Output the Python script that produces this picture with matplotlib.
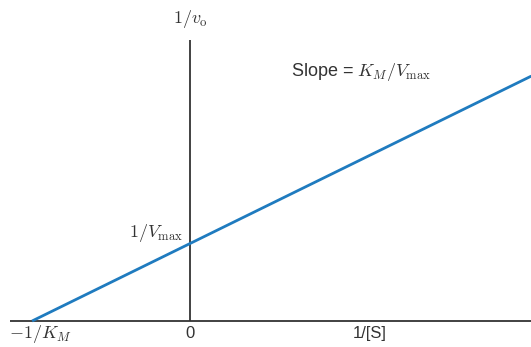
import matplotlib
matplotlib.use("Agg")
import matplotlib.pyplot as plt

# Lineweaver-Burk line, in units of 1/K_M (x) and 1/V_max (y)
inv_s = [-1.0, 2.16]
inv_v = [0.0, 3.1]

x_axis = [-1.14, 2.16]
y_axis = [0.0, 3.56]

plt.rcParams["mathtext.fontset"] = "cm"
plt.rcParams["font.family"] = "Liberation Sans"
txt = "#333333"

fig = plt.figure(figsize=(5.31, 3.47), dpi=100)
ax = fig.add_axes([0, 0, 1, 1])
ax.set_xlim(-1.203, 2.158)
ax.set_ylim(-0.329, 4.063)
ax.axis("off")

ax.plot(x_axis, [0, 0], color="#333333", lw=1.3, solid_capstyle="butt")
ax.plot([0, 0], y_axis, color="#333333", lw=1.3, solid_capstyle="butt")
ax.plot(inv_s, inv_v, color="#1f7bbf", lw=2.0, solid_capstyle="butt")

fs = 13
ax.text(0, 3.82, r"$1/v_\mathrm{o}$", ha="center", va="center", fontsize=fs, color=txt)
ax.text(-0.045, 1.12, r"$1/V_\mathrm{max}$", ha="right", va="center", fontsize=fs, color=txt)
ax.text(-0.95, -0.17, r"$\mathrm{-}1/K_M$", ha="center", va="center", fontsize=fs, color=txt)
ax.text(0, -0.16, "0", ha="center", va="center", fontsize=12, color=txt)
ax.text(1.14, -0.16, "1/[S]", ha="center", va="center", fontsize=12, color=txt)
ax.text(1.08, 3.15, r"Slope = $K_M/V_\mathrm{max}$", ha="center", va="center",
        fontsize=fs, color=txt)

fig.savefig("out.png", dpi=100)
